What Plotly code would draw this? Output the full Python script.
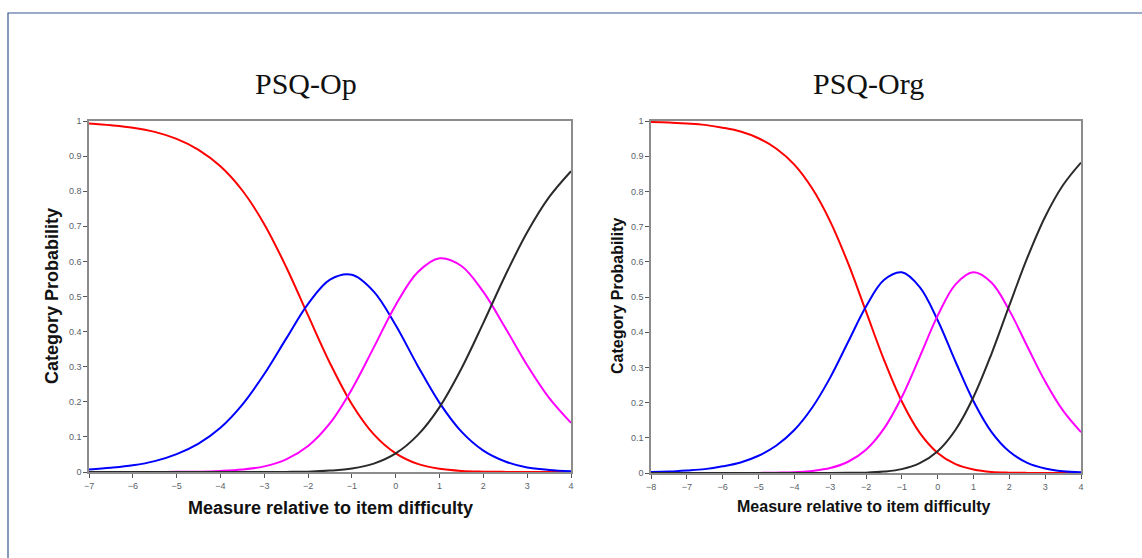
import plotly.graph_objects as go

# ---------------- data ----------------
x_op = [-7, -6.5, -6, -5.5, -5, -4.5, -4, -3.5, -3, -2.5, -2, -1.5, -1, -0.5,
        0, 0.5, 1, 1.5, 2, 2.5, 3, 3.5, 4]
op_cat0 = [0.993, 0.988, 0.981, 0.969, 0.949, 0.918, 0.871, 0.802, 0.706, 0.584, 0.446,
           0.310, 0.193, 0.107, 0.053, 0.023, 0.009, 0.003, 0.001, 0.0003, 0.0001, 0.0, 0.0]
op_cat1 = [0.007, 0.012, 0.019, 0.031, 0.051, 0.081, 0.126, 0.192, 0.279, 0.380, 0.479,
           0.548, 0.562, 0.514, 0.418, 0.303, 0.197, 0.115, 0.061, 0.030, 0.013, 0.006, 0.002]
op_cat2 = [0.0, 0.0, 0.0001, 0.0002, 0.0004, 0.001, 0.003, 0.007, 0.016, 0.036, 0.074,
           0.139, 0.236, 0.355, 0.476, 0.569, 0.609, 0.587, 0.513, 0.411, 0.304, 0.211, 0.140]
op_cat3 = [0.0, 0.0, 0.0, 0.0, 0.0, 0.0, 0.0, 0.0, 0.0001, 0.0003, 0.001,
           0.004, 0.010, 0.024, 0.053, 0.105, 0.185, 0.295, 0.425, 0.560, 0.683, 0.783, 0.857]

x_org = [-8, -7.5, -7, -6.5, -6, -5.5, -5, -4.5, -4, -3.5, -3, -2.5, -2, -1.5, -1, -0.5,
         0, 0.5, 1, 1.5, 2, 2.5, 3, 3.5, 4]
org_cat0 = [0.997, 0.996, 0.993, 0.989, 0.981, 0.970, 0.951, 0.921, 0.876, 0.808, 0.715,
            0.596, 0.459, 0.322, 0.203, 0.114, 0.057, 0.025, 0.010, 0.003, 0.001, 0.0003,
            0.0001, 0.0, 0.0]
org_cat1 = [0.003, 0.004, 0.007, 0.011, 0.019, 0.030, 0.049, 0.078, 0.122, 0.186, 0.271,
            0.372, 0.473, 0.548, 0.570, 0.528, 0.434, 0.316, 0.204, 0.117, 0.061, 0.029,
            0.013, 0.005, 0.002]
org_cat2 = [0.0, 0.0, 0.0, 0.0, 0.0001, 0.0001, 0.0003, 0.001, 0.002, 0.006, 0.014,
            0.032, 0.066, 0.126, 0.216, 0.330, 0.447, 0.536, 0.570, 0.541, 0.462, 0.360,
            0.260, 0.177, 0.116]
org_cat3 = [0.0, 0.0, 0.0, 0.0, 0.0, 0.0, 0.0, 0.0, 0.0, 0.0, 0.0001,
            0.0004, 0.001, 0.004, 0.011, 0.028, 0.062, 0.123, 0.216, 0.338, 0.476, 0.611,
            0.728, 0.818, 0.882]

titles = ["PSQ-Op", "PSQ-Org"]
y_title = "Category Probability"
x_title = "Measure relative to item difficulty"
colors = ["#ff0000", "#0000ff", "#ff00ff", "#2a2a2a"]

# ---------------- figure ----------------
W, H = 1142, 558
fig = go.Figure()

def add_series(xs, series, xa, ya):
    for s, c in zip(series, colors):
        fig.add_trace(go.Scatter(x=xs, y=s, mode="lines", xaxis=xa, yaxis=ya,
                                 line=dict(color=c, width=2, shape="spline", smoothing=1.0),
                                 showlegend=False, hoverinfo="skip"))

add_series(x_op, [op_cat0, op_cat1, op_cat2, op_cat3], "x", "y")
add_series(x_org, [org_cat0, org_cat1, org_cat2, org_cat3], "x2", "y2")

def px_x(p):
    return p / W

def px_y(p):
    return 1 - p / H

axis_common = dict(showgrid=False, zeroline=False, showline=True, mirror=True,
                   linecolor="#8c8c8c", linewidth=1.5, ticks="outside", ticklen=4,
                   tickcolor="#555555", tickwidth=1, automargin=False,
                   tickfont=dict(family="Liberation Sans, Arial", size=9, color="#5a5f6a"))

fig.update_layout(
    width=W, height=H,
    margin=dict(l=0, r=0, t=0, b=0, autoexpand=False),
    paper_bgcolor="white", plot_bgcolor="white",
    xaxis=dict(domain=[px_x(89), px_x(571)], range=[-7, 4], dtick=1, anchor="y", **axis_common),
    yaxis=dict(domain=[px_y(472), px_y(121)], range=[0, 1], dtick=0.1, anchor="x", **axis_common),
    xaxis2=dict(domain=[px_x(651), px_x(1081)], range=[-8, 4], dtick=1, anchor="y2", **axis_common),
    yaxis2=dict(domain=[px_y(473), px_y(121)], range=[0, 1], dtick=0.1, anchor="x2", **axis_common),
)

def txt(text, x, y, size, family, angle=0):
    return dict(text=text, x=px_x(x), y=px_y(y), xref="paper", yref="paper",
                xanchor="center", yanchor="middle", textangle=angle, showarrow=False,
                font=dict(family=family, size=size, color="#111111"))

serif = "Liberation Serif, Times New Roman, serif"
sans = "Liberation Sans, Arial, sans-serif"
ann = [
    txt(titles[0], 306, 84, 30, serif),
    txt(titles[1], 868, 84, 30, serif),
    txt("<b>" + y_title + "</b>", 52, 296, 18, sans, -90),
    txt("<b>" + y_title + "</b>", 617, 296, 16, sans, -90),
    txt("<b>" + x_title + "</b>", 330, 508, 18, sans),
    txt("<b>" + x_title + "</b>", 864, 506, 16, sans),
]
fig.update_layout(annotations=ann)

# outer frame (only top and left edges visible in the picture)
fig.add_shape(type="rect", xref="paper", yref="paper",
              x0=px_x(8), y0=-0.05, x1=1.05, y1=px_y(13),
              line=dict(color="#3a5694", width=1.2), fillcolor="rgba(0,0,0,0)", layer="below")

fig.write_html("out.html", config={"displayModeBar": False},
               post_script="document.body.style.margin='0px';document.body.style.overflow='hidden';")
